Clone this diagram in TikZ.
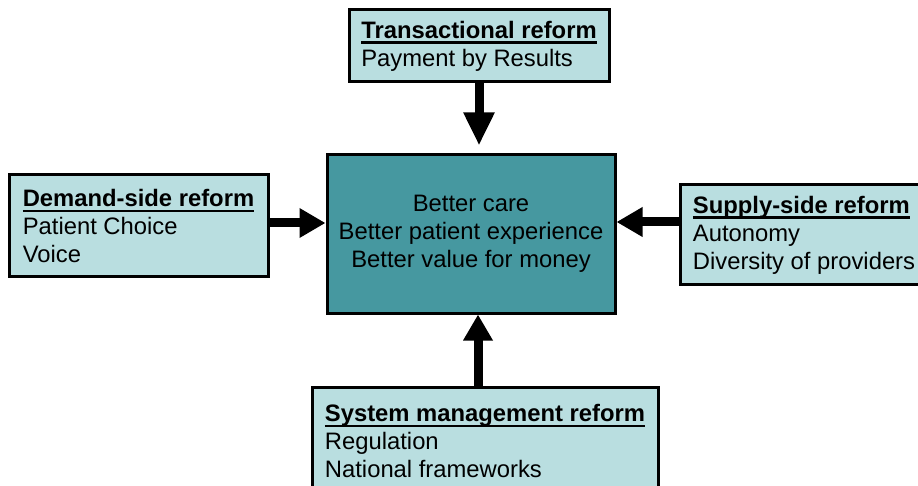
\documentclass[tikz,border=0pt]{standalone}
\usepackage{fontspec}
\setmainfont{Liberation Sans}
\usetikzlibrary{arrows.meta}
\definecolor{boxLight}{RGB}{185,222,224}
\definecolor{boxTeal}{RGB}{70,152,160}
\newcommand{\heading}[1]{\setbox0\hbox{\bfseries #1}\rlap{\rule[-5.5pt]{\wd0}{2.4pt}}\box0}

\begin{document}
\begin{tikzpicture}[x=1pt, y=-1pt]

    % Page frame
    \clip (0,0) rectangle (918,486);

    % Reform boxes and hub
    \tikzset{rB/.style={draw, line width = 3pt, fill = boxLight, align = left, inner sep = 0pt, font = \fontsize{23.8}{28}\selectfont}}
    \tikzset{hB/.style={rB, fill = boxTeal, align = center}}

    % Arrows
    \tikzset{aR/.style={line width = 9pt, -{Triangle[length = 26pt, width = 28pt]}}}

    % Nodes
    \node (hub) [hB, minimum width = 288pt, minimum height = 158pt] at (471, 234) {Better care\\Better patient experience\\Better value for money};
    	\node (trans) [rB, minimum width = 260pt, minimum height = 72pt] at (479, 46) {\heading{Transactional reform}\\Payment by Results};
    	\node (demand) [rB, minimum width = 259pt, minimum height = 102pt] at (138.5, 226) {\heading{Demand-side reform}\\Patient Choice\\Voice};
    	\node (supply) [rB, minimum width = 248pt, minimum height = 100pt] at (804, 235) {\heading{Supply-side reform}\\Autonomy\\Diversity of providers};
    	\node (system) [rB, minimum width = 346pt, minimum height = 108pt] at (485, 441) {\heading{System management reform}\\Regulation\\National frameworks};

    % Connectors
    \draw[aR, -{Triangle[length = 33pt, width = 29pt]}] (trans.south) -- ([yshift=8pt]trans.south |- hub.north);
    \draw[aR] ([yshift=3pt]demand.east) -- ([yshift=3pt]demand.east -| hub.west);
    \draw[aR] ([yshift=13pt]supply.west) -- ([yshift=13pt]supply.west -| hub.east);
    \draw[aR] ([xshift=-7pt]system.north) -- ([xshift=-7pt]system.north |- hub.south);

\end{tikzpicture}
\end{document}
